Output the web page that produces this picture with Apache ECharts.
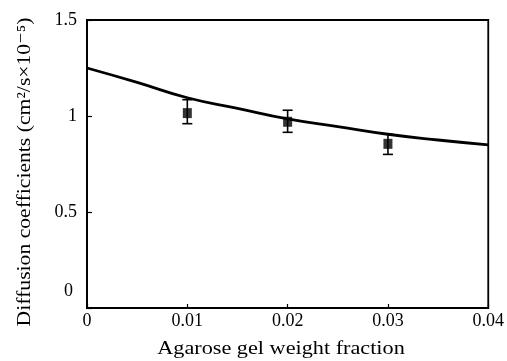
<!DOCTYPE html>
<html><head><meta charset="utf-8">
<script src="https://cdn.jsdelivr.net/npm/echarts@6/dist/echarts.min.js"></script>
<style>html,body{margin:0;padding:0;background:#fff}#c{width:507px;height:361px}</style>
</head><body><div id="c"></div>
<script>
const xTicks = [0, 0.01, 0.02, 0.03, 0.04];
const yTicks = [0, 0.5, 1, 1.5];
const pointX = [0.01, 0.02, 0.03];
const pointY = [1.015, 0.97, 0.855];
const errLow = [0.96, 0.915, 0.80];
const errHigh = [1.085, 1.03, 0.905];
const curveX = [0, 0.005, 0.01, 0.015, 0.02, 0.025, 0.03, 0.035, 0.04];
const curveY = [1.25, 1.175, 1.095, 1.04, 0.985, 0.945, 0.905, 0.875, 0.85];
const xName = 'Agarose gel weight fraction';
const yName = 'Diffusion coefficients (cm²/s×10⁻⁵)';

const font = '"Liberation Serif", "DejaVu Serif", serif';
const chart = echarts.init(document.getElementById('c'));
chart.setOption({
  animation: false,
  grid: {left: 87, right: 18, top: 20, bottom: 53, show: true, borderColor: '#000', borderWidth: 1.8, backgroundColor: 'transparent'},
  xAxis: {
    type: 'value', min: 0, max: 0.04, interval: 0.01,
    axisLine: {show: true, lineStyle: {color: '#000', width: 1.8}},
    axisTick: {show: true, inside: true, length: 4, lineStyle: {color: '#000', width: 1.2}},
    axisLabel: {fontFamily: font, fontSize: 18, color: '#000', margin: 4,
      formatter: v => { const i = xTicks.findIndex(t => Math.abs(t - v) < 1e-9); return i >= 0 ? String(xTicks[i]) : ''; }},
    splitLine: {show: false}
  },
  yAxis: {
    type: 'value', min: 0, max: 1.5, interval: 0.5,
    axisLine: {show: true, lineStyle: {color: '#000', width: 1.8}},
    axisTick: {show: true, inside: true, length: 5, lineStyle: {color: '#000', width: 1.2}},
    axisLabel: {fontFamily: font, fontSize: 18, color: '#000', margin: 10,
      formatter: v => {
        const i = yTicks.findIndex(t => Math.abs(t - v) < 1e-9);
        if (i < 0) return '';
        return yTicks[i] === 0 ? '{z|' + yTicks[i] + '}' : String(yTicks[i]);
      },
      rich: {z: {fontFamily: font, fontSize: 18, color: '#000', padding: [0, 4, 34, 0]}}
    },
    splitLine: {show: false}
  },
  graphic: [
    {type: 'text', x: 281, y: 349, scaleX: 1.17,
      style: {text: xName, font: '19px ' + font, fill: '#000', align: 'center', verticalAlign: 'middle'}},
    {type: 'text', x: 25, y: 172, rotation: Math.PI / 2, scaleX: 1.14,
      style: {text: yName, font: '19px ' + font, fill: '#000', align: 'center', verticalAlign: 'middle'}}
  ],
  series: [
    {
      type: 'line', smooth: true, showSymbol: false, symbol: 'none',
      data: curveX.map((x, i) => [x, curveY[i]]),
      lineStyle: {color: '#000', width: 2.8}, z: 3
    },
    {
      type: 'custom',
      data: pointX.map((x, i) => [x, errLow[i], errHigh[i]]),
      renderItem: (params, api) => {
        const lo = api.coord([api.value(0), api.value(1)]);
        const hi = api.coord([api.value(0), api.value(2)]);
        const w = 5;
        const st = {stroke: '#000', lineWidth: 1.6};
        return {type: 'group', children: [
          {type: 'line', shape: {x1: lo[0], y1: lo[1], x2: hi[0], y2: hi[1]}, style: st},
          {type: 'line', shape: {x1: lo[0] - w, y1: lo[1], x2: lo[0] + w, y2: lo[1]}, style: st},
          {type: 'line', shape: {x1: hi[0] - w, y1: hi[1], x2: hi[0] + w, y2: hi[1]}, style: st}
        ]};
      }, z: 4
    },
    {
      type: 'scatter', symbol: 'rect', symbolSize: [9, 10],
      data: pointX.map((x, i) => [x, pointY[i]]),
      itemStyle: {color: '#000'}, z: 5
    }
  ]
});
</script></body></html>
